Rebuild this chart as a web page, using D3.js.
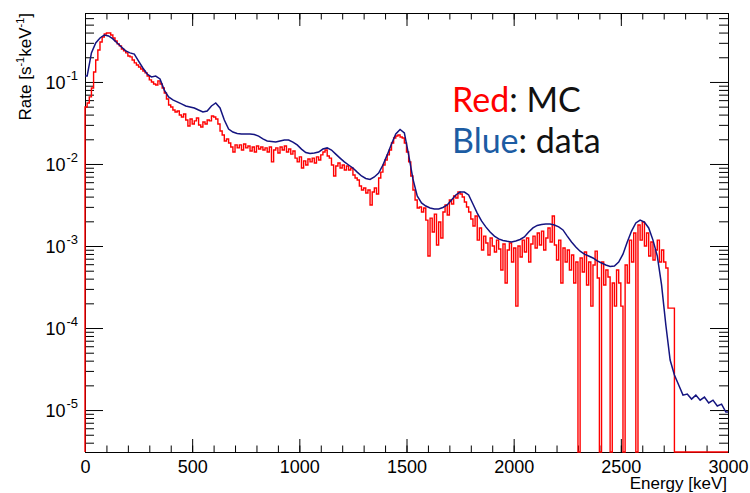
<!DOCTYPE html>
<html lang="en">
<head>
<meta charset="UTF-8">
<title>Rate vs Energy</title>
<script src="https://d3js.org/d3.v7.min.js"></script>
<style>
  body { margin: 0; background: #fff; }
</style>
</head>
<body>
<svg id="chart" width="750" height="493"></svg>
<script>
// MC spectrum, 10 keV bins from 0 to 3000 keV, rate in s^-1 keV^-1
var mcBinWidth = 10;
var mcRate = [
  0.0496, 0.0555, 0.0657, 0.0845, 0.132, 0.185, 0.245, 0.307, 0.354, 0.385,
  0.396, 0.396, 0.374, 0.344, 0.316, 0.291, 0.275, 0.252, 0.239, 0.226,
  0.207, 0.202, 0.185, 0.171, 0.161, 0.152, 0.144, 0.136, 0.129, 0.118,
  0.106, 0.100, 0.0945, 0.0919, 0.103, 0.0945, 0.0845, 0.0735, 0.0621, 0.0524,
  0.0496, 0.0455, 0.0431, 0.0443, 0.0396, 0.0374, 0.0407, 0.0344, 0.0291, 0.0354,
  0.0307, 0.0335, 0.0364, 0.0299, 0.0283, 0.0325, 0.0307, 0.0344, 0.0335, 0.0385,
  0.0374, 0.0354, 0.0307, 0.0252, 0.0226, 0.0191, 0.0202, 0.0180, 0.0161, 0.0140,
  0.0171, 0.0157, 0.0171, 0.0148, 0.0175, 0.0157, 0.0166, 0.0144, 0.0161, 0.0140,
  0.0166, 0.0152, 0.0161, 0.0148, 0.0157, 0.0140, 0.0161, 0.0106, 0.0148, 0.0157,
  0.0136, 0.0161, 0.0148, 0.0166, 0.0140, 0.0152, 0.0132, 0.0144, 0.0118, 0.0106,
  0.0122, 0.00894, 0.0109, 0.00972, 0.0115, 0.0106, 0.0118, 0.0103, 0.0122, 0.0112,
  0.0129, 0.0140, 0.0148, 0.0125, 0.0118, 0.00972, 0.00714, 0.00945, 0.0103, 0.00894,
  0.00972, 0.00845, 0.00945, 0.00845, 0.00894, 0.00735, 0.00676, 0.00638, 0.00540, 0.00482,
  0.00510, 0.00443, 0.00482, 0.00316, 0.00455, 0.00510, 0.00431, 0.00676, 0.00796, 0.00972,
  0.0112, 0.0129, 0.0148, 0.0180, 0.0207, 0.0219, 0.0226, 0.0213, 0.0207, 0.0180,
  0.0140, 0.0106, 0.00714, 0.00482, 0.00364, 0.00291, 0.00299, 0.00260, 0.00291, 0.00207,
  0.000756, 0.00219, 0.00148, 0.00245, 0.00103, 0.00196, 0.00125, 0.00260, 0.00316, 0.00239,
  0.00364, 0.00325, 0.00407, 0.00385, 0.00455, 0.00431, 0.00396, 0.00344, 0.00299, 0.00260,
  0.00213, 0.00175, 0.00232, 0.00118, 0.00166, 0.000894, 0.00132, 0.00109, 0.000777, 0.00125,
  0.00100, 0.000845, 0.00118, 0.000919, 0.000510, 0.00106, 0.000354, 0.000894, 0.00109, 0.000638,
  0.000945, 0.000185, 0.00100, 0.000735, 0.00118, 0.000845, 0.00125, 0.000638, 0.00106, 0.00132,
  0.000945, 0.00144, 0.00103, 0.00152, 0.000894, 0.00125, 0.00166, 0.00112, 0.00232, 0.00103,
  0.000676, 0.00118, 0.000354, 0.000945, 0.000638, 0.000894, 0.000510, 0.000777, 0.000354, 0.000638,
  0, 0.000714, 0.000482, 0.000845, 0.000335, 0.000638, 0.000185, 0.000587, 0.000865, 0.000407,
  0, 0.000638, 0.000335, 0.000510, 0.000419, 0, 0.000354, 0.000185, 0.000510, 0.000354,
  0.000185, 0, 0.000587, 0.000354, 0.00118, 0.000638, 0.00144, 0, 0.00180, 0.00118,
  0.00196, 0.00100, 0.00144, 0.000756, 0.00112, 0.000676, 0.000894, 0.00118, 0.000638, 0.000894,
  0.000638, 0.000540, 0.000175, 0.000175, 0.000175, 0, 0, 0, 0, 0,
  0, 0, 0, 0, 0, 0, 0, 0, 0, 0,
  0, 0, 0, 0, 0, 0, 0, 0, 0, 0
];

// measured data, 20 keV bins from 0 to 3000 keV
var dataBinWidth = 20;
var dataRate = [
  0.118, 0.226, 0.299, 0.344, 0.374, 0.364, 0.335, 0.299, 0.267, 0.239,
  0.226, 0.219, 0.180, 0.148, 0.125, 0.115, 0.118, 0.109, 0.0796, 0.0657,
  0.0604, 0.0571, 0.0540, 0.0510, 0.0496, 0.0482, 0.0455, 0.0431, 0.0443, 0.0510,
  0.0555, 0.0482, 0.0344, 0.0267, 0.0245, 0.0236, 0.0232, 0.0232, 0.0232, 0.0229,
  0.0219, 0.0202, 0.0191, 0.0188, 0.0185, 0.0191, 0.0196, 0.0196, 0.0185, 0.0171,
  0.0152, 0.0138, 0.0134, 0.0136, 0.0140, 0.0152, 0.0157, 0.0148, 0.0132, 0.0118,
  0.0106, 0.00972, 0.00894, 0.00796, 0.00714, 0.00666, 0.00647, 0.00694, 0.00776, 0.00972,
  0.0129, 0.0175, 0.0232, 0.0263, 0.0239, 0.0129, 0.00657, 0.00407, 0.00335, 0.00307,
  0.00291, 0.00283, 0.00283, 0.00295, 0.00316, 0.00364, 0.00419, 0.00455, 0.00455, 0.00419,
  0.00325, 0.00252, 0.00202, 0.00171, 0.00148, 0.00132, 0.00122, 0.00117, 0.00114, 0.00112,
  0.00115, 0.00120, 0.00129, 0.00148, 0.00166, 0.00178, 0.00183, 0.00185, 0.00185, 0.00180,
  0.00171, 0.00157, 0.00132, 0.00112, 0.000972, 0.000865, 0.000796, 0.000756, 0.000714, 0.000657,
  0.000621, 0.000587, 0.000563, 0.000571, 0.000638, 0.000796, 0.00112, 0.00152, 0.00191, 0.00207,
  0.00196, 0.00166, 0.00118, 0.000756, 0.000335, 0.000109, 0.0000407, 0.0000267, 0.0000202, 0.0000152,
  0.0000157, 0.0000136, 0.0000152, 0.0000132, 0.0000144, 0.0000122, 0.0000132, 0.0000112, 0.0000118, 0.00000945
];

var xMajorTicks = [0, 500, 1000, 1500, 2000, 2500, 3000];
var yDecades = [1e-5, 1e-4, 1e-3, 1e-2, 1e-1];
var yExponents = ["-5", "-4", "-3", "-2", "-1"];

var svg = d3.select("#chart")
  .attr("font-family", "'Liberation Sans', Arial, Helvetica, sans-serif");

// frame edges in pixels
var frameL = 85, frameR = 728, frameT = 13, frameB = 452;

var x = d3.scaleLinear().domain([0, 3000]).range([frameL, frameR]);
var y = d3.scaleLog().domain([3.08e-6, 0.693]).range([frameB, frameT]);

// minor ticks: every 100 keV, and 2..9 inside each decade
var xMinorTicks = d3.range(0, 3001, 100);
var yMinorTicks = [];
[1e-6, 1e-5, 1e-4, 1e-3, 1e-2, 1e-1].forEach(function (dec) {
  for (var m = 2; m <= 9; m++) {
    var v = m * dec;
    if (v >= y.domain()[0] && v <= y.domain()[1]) yMinorTicks.push(v);
  }
});

function addAxis(axis, transform) {
  var g = svg.append("g").attr("transform", transform).call(axis);
  g.select(".domain").remove();
  g.selectAll("line").attr("stroke", "#000");
  return g;
}

// bottom
addAxis(d3.axisBottom(x).tickValues(xMinorTicks).tickSize(-6.5).tickFormat(""), "translate(0," + frameB + ")");
var xAx = addAxis(d3.axisBottom(x).tickValues(xMajorTicks).tickSize(-13).tickPadding(8)
  .tickFormat(d3.format("d")), "translate(0," + frameB + ")");
xAx.selectAll("text").attr("font-size", 18).attr("fill", "#000")
  .attr("font-family", "'Liberation Sans', Arial, sans-serif");
// top
addAxis(d3.axisTop(x).tickValues(xMinorTicks).tickSize(-6.5).tickFormat(""), "translate(0," + frameT + ")");
addAxis(d3.axisTop(x).tickValues(xMajorTicks).tickSize(-13).tickFormat(""), "translate(0," + frameT + ")");
// left
addAxis(d3.axisLeft(y).tickValues(yMinorTicks).tickSize(-9).tickFormat(""), "translate(" + frameL + ",0)");
addAxis(d3.axisLeft(y).tickValues(yDecades).tickSize(-18).tickFormat(""), "translate(" + frameL + ",0)");
// right
addAxis(d3.axisRight(y).tickValues(yMinorTicks).tickSize(-9).tickFormat(""), "translate(" + frameR + ",0)");
addAxis(d3.axisRight(y).tickValues(yDecades).tickSize(-18).tickFormat(""), "translate(" + frameR + ",0)");

// y tick labels 10^n
var yLab = svg.append("g").attr("font-size", 18).attr("fill", "#000");
yDecades.forEach(function (d, i) {
  var t = yLab.append("text").attr("x", frameL - 7).attr("y", y(d) + 7).attr("text-anchor", "end");
  t.append("tspan").text("10");
  t.append("tspan").attr("font-size", 13).attr("dx", 1).attr("dy", -9).text(yExponents[i]);
});

// frame
svg.append("rect")
  .attr("x", frameL + 0.5).attr("y", frameT + 0.5)
  .attr("width", frameR - frameL).attr("height", frameB - frameT)
  .attr("fill", "none").attr("stroke", "#000").attr("stroke-width", 1);

// MC histogram drawn as steps, empty bins go to the bottom of the frame
function yv(v) { return v > 0 ? y(v) : frameB; }
var mcPts = [[0, 0]];
mcRate.forEach(function (v, i) { mcPts.push([i * mcBinWidth, v]); });
mcPts.push([mcRate.length * mcBinWidth, mcRate[mcRate.length - 1]]);

svg.append("path")
  .datum(mcPts)
  .attr("fill", "none")
  .attr("stroke", "#ff0000")
  .attr("stroke-width", 1.4)
  .attr("d", d3.line()
    .curve(d3.curveStepAfter)
    .x(function (d) { return x(d[0]); })
    .y(function (d) { return yv(d[1]); }));

// data spectrum through bin centres
var dataPts = [[0, dataRate[0]]];
dataRate.forEach(function (v, i) { dataPts.push([(i + 0.5) * dataBinWidth, v]); });
dataPts.push([dataRate.length * dataBinWidth, dataRate[dataRate.length - 1]]);

svg.append("path")
  .datum(dataPts)
  .attr("fill", "none")
  .attr("stroke", "#141480")
  .attr("stroke-width", 1.5)
  .attr("d", d3.line()
    .x(function (d) { return x(d[0]); })
    .y(function (d) { return y(d[1]); }));

// axis titles
svg.append("text")
  .attr("x", frameR - 1).attr("y", 489)
  .attr("text-anchor", "end").attr("font-size", 17).attr("fill", "#000")
  .text("Energy [keV]");

var yTitle = svg.append("text")
  .attr("transform", "translate(31," + frameT + ") rotate(-90)")
  .attr("text-anchor", "end").attr("font-size", 17).attr("fill", "#000");
yTitle.append("tspan").text("Rate [s");
yTitle.append("tspan").attr("font-size", 11).attr("dy", -7).text("-1");
yTitle.append("tspan").attr("dy", 7).text("keV");
yTitle.append("tspan").attr("font-size", 11).attr("dy", -7).text("-1");
yTitle.append("tspan").attr("dy", 7).text("]");

// legend text
var legend = svg.append("g")
  .attr("font-family", "Lato, 'Open Sans', sans-serif")
  .attr("font-size", 34);
var l1 = legend.append("text").attr("x", 452).attr("y", 112);
l1.append("tspan").attr("fill", "#ff0000").text("Red");
l1.append("tspan").attr("fill", "#111").text(": MC");
var l2 = legend.append("text").attr("x", 452).attr("y", 153);
l2.append("tspan").attr("fill", "#1c5ca3").text("Blue");
l2.append("tspan").attr("fill", "#111").text(": data");
</script>
</body>
</html>
